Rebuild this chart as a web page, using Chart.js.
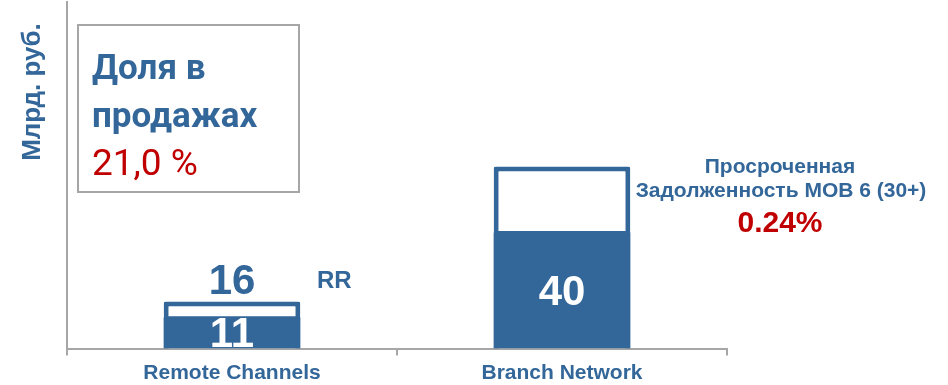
<!DOCTYPE html>
<html>
<head>
<meta charset="utf-8">
<script src="https://cdn.jsdelivr.net/npm/chart.js@4.4.1/dist/chart.umd.min.js"></script>
<style>
  html, body { margin: 0; padding: 0; background: #fff; }
  #wrap { width: 948px; height: 385px; }
</style>
</head>
<body>
<div id="wrap"><canvas id="chart" width="948" height="385"></canvas></div>
<script>
// ── Data ────────────────────────────────────────────────────────────────────
const categories   = ['Remote Channels', 'Branch Network'];
const baseValues   = [11, 40];     // solid part of each bar
const totalValues  = [16, 62];     // outlined total (run rate)
const totalLabels  = ['16', ''];
const axisTitle    = 'Млрд. руб.';
const shareTitle   = ['Доля в', 'продажах'];
const shareValue   = '21,0 %';
const overdueTitle = ['Просроченная', 'Задолженность МОВ 6 (30+)'];
const overdueValue = '0.24%';
const rrLabel      = 'RR';

const BLUE = '#336699';
const RED  = '#C00000';
const GREY = '#A6A6A6';
const FONT = '"Liberation Sans", Arial, sans-serif';

// Value labels + free text annotations
const labelPlugin = {
  id: 'labels',
  afterDatasetsDraw(chart) {
    const ctx = chart.ctx;
    const totMeta  = chart.getDatasetMeta(0);
    const baseMeta = chart.getDatasetMeta(1);
    ctx.save();
    ctx.textAlign = 'center';
    ctx.textBaseline = 'alphabetic';
    ctx.font = `bold 42px ${FONT}`;

    baseMeta.data.forEach((bar, i) => {
      const mid = (bar.y + bar.base) / 2;
      ctx.fillStyle = '#fff';
      ctx.fillText(String(baseValues[i]), bar.x, mid + 15);
    });
    totMeta.data.forEach((bar, i) => {
      if (!totalLabels[i]) return;
      ctx.fillStyle = BLUE;
      ctx.fillText(totalLabels[i], bar.x, bar.y - 8);
    });

    // RR marker next to the first bar
    ctx.textAlign = 'left';
    ctx.font = `bold 24px ${FONT}`;
    ctx.fillStyle = BLUE;
    ctx.fillText(rrLabel, 317, 288);

    // Overdue note on the right
    ctx.textAlign = 'center';
    ctx.font = `bold 21px ${FONT}`;
    ctx.fillText(overdueTitle[0], 780, 173);
    ctx.fillText(overdueTitle[1], 781, 197);
    ctx.font = `bold 30px ${FONT}`;
    ctx.fillStyle = RED;
    ctx.fillText(overdueValue, 780, 232);

    // Share box
    ctx.strokeStyle = GREY;
    ctx.lineWidth = 2;
    ctx.strokeRect(78, 25, 221, 167);
    ctx.textAlign = 'left';
    ctx.fillStyle = BLUE;
    ctx.font = `bold 35px Roboto, ${FONT}`;
    ctx.fillText(shareTitle[0], 92, 79);
    ctx.fillText(shareTitle[1], 92, 127);
    ctx.fillStyle = RED;
    ctx.font = `37px Roboto, ${FONT}`;
    ctx.fillText(shareValue, 92, 175);

    // Y axis title
    ctx.save();
    ctx.translate(40, 92);
    ctx.rotate(-Math.PI / 2);
    ctx.textAlign = 'center';
    ctx.fillStyle = BLUE;
    ctx.font = `bold 26px ${FONT}`;
    ctx.fillText(axisTitle, 0, 0);
    ctx.restore();

    ctx.restore();
  }
};

new Chart(document.getElementById('chart').getContext('2d'), {
  type: 'bar',
  data: {
    labels: categories,
    datasets: [
      {
        label: 'Total',
        data: totalValues,
        backgroundColor: '#fff',
        borderColor: BLUE,
        borderWidth: 5,
        borderRadius: 2,
        grouped: false,
        order: 2,
        barPercentage: 0.414,
        categoryPercentage: 1,
      },
      {
        label: 'Base',
        data: baseValues,
        backgroundColor: BLUE,
        borderWidth: 0,
        borderRadius: 2,
        grouped: false,
        order: 1,
        barPercentage: 0.414,
        categoryPercentage: 1,
      },
    ],
  },
  options: {
    responsive: false,
    devicePixelRatio: 1,
    animation: false,
    layout: { padding: { top: 2, right: 221, left: 0, bottom: 0 } },
    plugins: { legend: { display: false }, tooltip: { enabled: false } },
    scales: {
      x: {
        offset: true,
        grid: {
          display: true, drawOnChartArea: false, drawTicks: true,
          tickLength: 7, color: GREY, lineWidth: 2, offset: true,
        },
        border: { display: true, color: GREY, width: 2 },
        ticks: {
          color: BLUE, padding: 5,
          font: { family: FONT, size: 21, weight: 'bold' },
        },
        afterFit(scale) { scale.height = 36.5; },
      },
      y: {
        min: 0, max: 118,
        grid: { display: false },
        ticks: { display: false },
        border: { display: true, color: GREY, width: 2 },
        afterFit(scale) { scale.width = 67; },
      },
    },
  },
  plugins: [labelPlugin],
});
</script>
</body>
</html>
